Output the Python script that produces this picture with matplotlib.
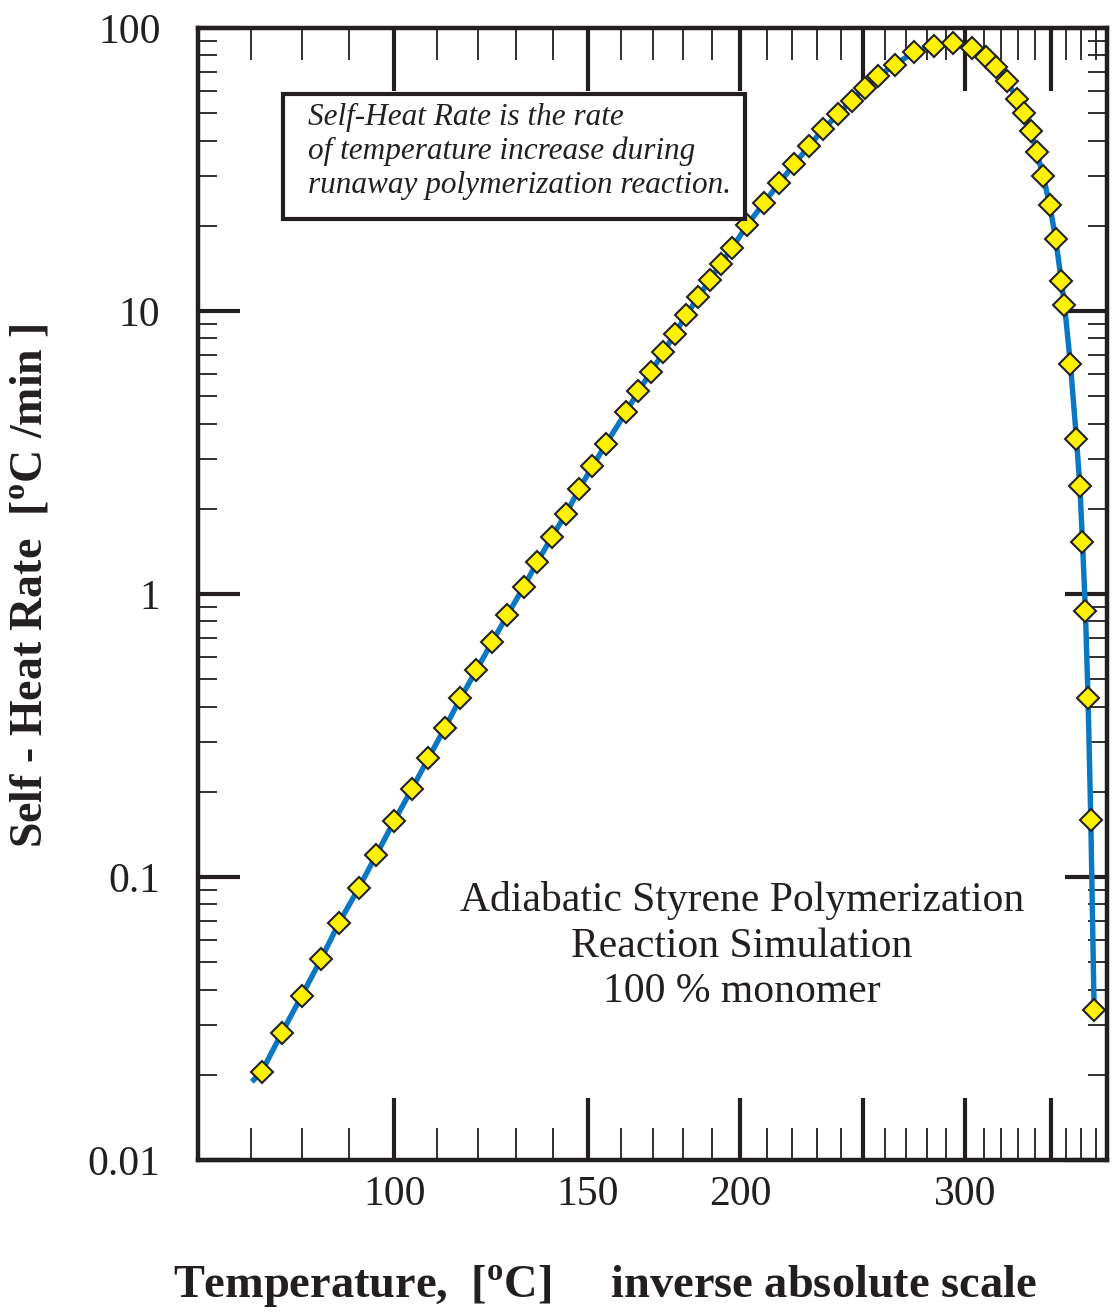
import numpy as np
import matplotlib
matplotlib.use("Agg")
import matplotlib.pyplot as plt
from matplotlib.ticker import FixedLocator, LogLocator, NullFormatter, FixedFormatter
from matplotlib.patches import Rectangle

plt.rcParams['font.family'] = ['Liberation Serif', 'DejaVu Serif']
plt.rcParams['mathtext.fontset'] = 'custom'
plt.rcParams['mathtext.rm'] = 'Liberation Serif'
plt.rcParams['mathtext.bf'] = 'Liberation Serif:bold'

# ---- data ----
temp_c = [72.0, 76.0, 80.0, 84.0, 87.8, 92.0, 95.9, 99.9, 104.0, 107.9,
          111.9, 115.7, 119.7, 123.7, 127.7, 132.0, 135.7, 139.7, 143.7, 147.5,
          151.4, 155.4, 161.5, 165.4, 169.4, 173.4, 177.2, 181.1, 185.2, 189.1,
          193.0, 197.1, 202.7, 208.8, 214.8, 220.8, 226.7, 232.5, 238.9, 244.7,
          250.6, 256.6, 264.5, 273.8, 283.7, 293.5, 303.4, 311.3, 317.3, 323.4,
          329.3, 333.3, 337.6, 341.1, 345.2, 349.4, 353.2, 356.9, 358.9, 362.8,
          366.8, 369.1, 370.9, 372.9, 374.7, 376.6, 378.9]
rate = [0.0205, 0.0282, 0.0381, 0.0513, 0.0690, 0.0912, 0.1196, 0.1573, 0.2042, 0.2627,
        0.3370, 0.4280, 0.5387, 0.6765, 0.8431, 1.0585, 1.296, 1.589, 1.917, 2.350,
        2.824, 3.381, 4.393, 5.197, 6.099, 7.135, 8.322, 9.712, 11.20, 12.87,
        14.67, 16.71, 20.20, 24.03, 28.36, 33.10, 38.24, 43.85, 49.56, 55.36,
        61.42, 67.45, 74.25, 82.15, 86.38, 88.30, 84.78, 79.17, 73.00, 64.98,
        56.11, 49.96, 43.36, 36.55, 30.07, 23.69, 17.92, 12.72, 10.50, 6.496,
        3.538, 2.412, 1.527, 0.8674, 0.4278, 0.1592, 0.0340]
line_start_temp = 70.1
line_start_rate = 0.0189

x_major = [100, 150, 200, 250, 300, 350]
x_major_labels = ['100', '150', '200', '', '300', '']
x_minor = [60, 70, 80, 90, 110, 120, 130, 140, 160, 170, 180, 190, 210, 220, 230, 240,
           260, 270, 280, 290, 310, 320, 330, 340, 360, 370, 380]
y_major = [0.01, 0.1, 1, 10, 100]
y_major_labels = ['0.01', '0.1', '1', '10', '100']

# ---- figure ----
W, H = 1113, 1313
fig = plt.figure(figsize=(W / 100, H / 100), dpi=100)
ax = fig.add_axes([198 / W, 1 - 1160 / H, (1107 - 198) / W, (1160 - 28) / H])


def fwd(t):
    t = np.asarray(t, dtype=float)
    return -1.0 / (t + 273.15)


def inv(u):
    u = np.asarray(u, dtype=float)
    with np.errstate(divide='ignore'):
        return -1.0 / u - 273.15


ax.set_xscale('function', functions=(fwd, inv))
ax.set_yscale('log')
ax.set_xlim(60, 388)
ax.set_ylim(0.01, 100)

line_x = [line_start_temp] + temp_c
line_y = [line_start_rate] + rate
ax.plot(line_x, line_y, color='#0a78c2', lw=3.9, zorder=3, solid_capstyle='butt')
ax.plot(temp_c, rate, linestyle='none', marker='D', markersize=11,
        markerfacecolor='#fff200', markeredgecolor='#222222', markeredgewidth=1.5, zorder=4)

ax.xaxis.set_major_locator(FixedLocator(x_major))
ax.xaxis.set_major_formatter(FixedFormatter(x_major_labels))
ax.xaxis.set_minor_locator(FixedLocator(x_minor))
ax.xaxis.set_minor_formatter(NullFormatter())
ax.yaxis.set_major_locator(FixedLocator(y_major))
ax.yaxis.set_major_formatter(FixedFormatter(y_major_labels))
ax.yaxis.set_minor_locator(LogLocator(base=10, subs=np.arange(2, 10)))
ax.yaxis.set_minor_formatter(NullFormatter())

ink = '#231f20'
ax.tick_params(which='both', direction='in', top=True, right=True, colors=ink)
ax.tick_params(axis='x', which='major', length=45, width=3, pad=11, labelsize=30)
ax.tick_params(axis='x', which='minor', length=23, width=1.3)
ax.tick_params(axis='y', which='major', length=30, width=3, pad=27, labelsize=30)
ax.tick_params(axis='y', which='minor', length=14, width=1.3)
for sp in ax.spines.values():
    sp.set_linewidth(3.2)
    sp.set_color(ink)

# annotation box
fig.patches.append(Rectangle((283 / W, 1 - 219 / H), (745 - 283) / W, (219 - 94) / H,
                             transform=fig.transFigure, facecolor='white',
                             edgecolor=ink, lw=3, zorder=2))
box_lines = ["Self-Heat Rate is the rate",
             "of temperature increase during",
             "runaway polymerization reaction."]
for i, s in enumerate(box_lines):
    fig.text(308 / W, 1 - (117 + 34 * i) / H, s, fontsize=22.5, style='italic',
             ha='left', va='center', color=ink, zorder=5)

sim_lines = ["Adiabatic Styrene Polymerization", "Reaction Simulation", "100 % monomer"]
for i, s in enumerate(sim_lines):
    fig.text(742 / W, 1 - (901 + 45.5 * i) / H, s, fontsize=30, ha='center', va='center',
             color=ink)

fig.text(605 / W, 1 - 1287 / H,
         r"Temperature,  [$^{\mathbf{o}}$C]     inverse absolute scale",
         fontsize=33.4, fontweight='bold', ha='center', va='center', color=ink)
fig.text(31 / W, 1 - 586 / H, r"Self - Heat Rate  [$^{\mathbf{o}}$C /min ]",
         fontsize=33, fontweight='bold', rotation=90, ha='center', va='center', color=ink)

fig.savefig('out.png', dpi=100)
